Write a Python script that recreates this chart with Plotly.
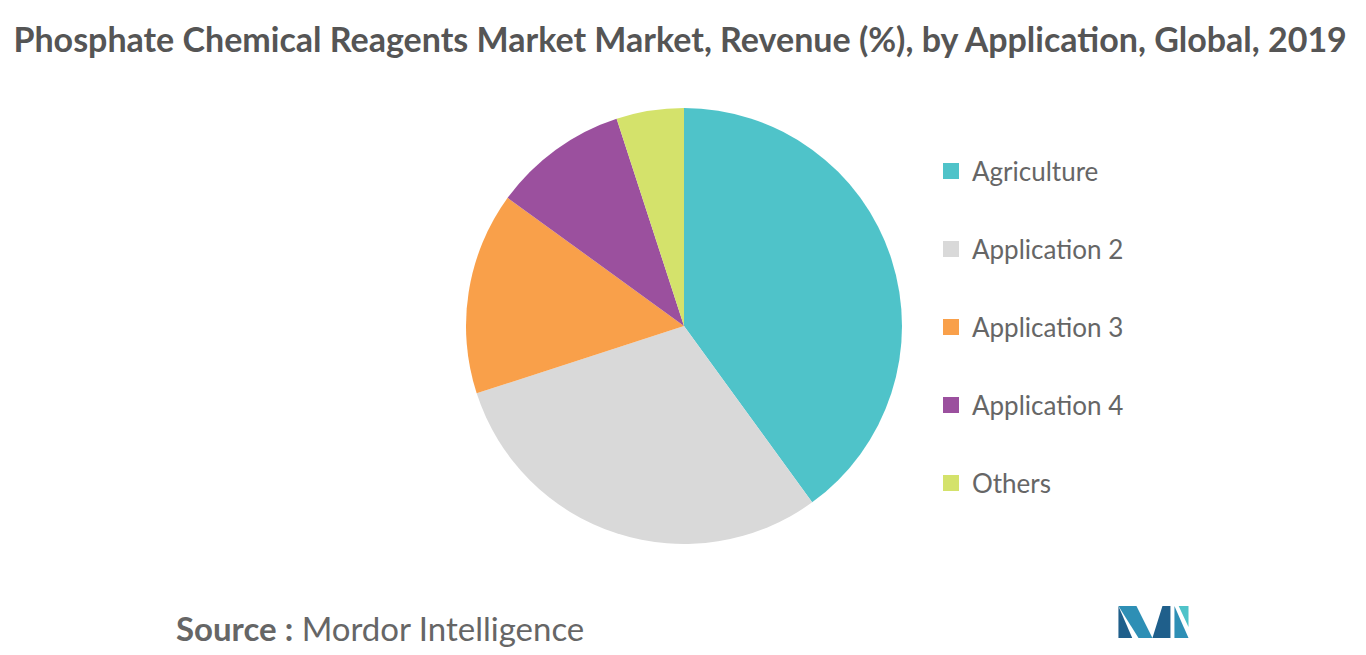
import plotly.graph_objects as go

labels = ["Agriculture", "Application 2", "Application 3", "Application 4", "Others"]
values = [40, 30, 15, 10, 5]
colors = ["#4FC3C9", "#D9D9D9", "#F9A04A", "#9B509E", "#D4E26B"]

W, H = 1366, 655
cx, cy, r = 676, 318, 218

fig = go.Figure(go.Pie(
    labels=labels,
    values=values,
    marker=dict(colors=colors),
    sort=False,
    direction="clockwise",
    rotation=0,
    textinfo="none",
    hoverinfo="label+percent",
    showlegend=False,
    domain=dict(x=[(cx - r) / W, (cx + r) / W], y=[1 - (cy + r) / H, 1 - (cy - r) / H]),
))

# legend drawn by hand to match the wide spacing
annotations = []
shapes = []
for i, (lab, col) in enumerate(zip(labels, colors)):
    yc = 163 + 78 * i
    shapes.append(dict(type="rect", xref="paper", yref="paper",
                       x0=935 / W, x1=951 / W, y0=1 - (yc + 8) / H, y1=1 - (yc - 8) / H,
                       fillcolor=col, line=dict(width=0)))
    annotations.append(dict(text=lab, x=962 / W, y=1 - yc / H, xref="paper", yref="paper",
                            xanchor="left", yanchor="middle", showarrow=False,
                            font=dict(size=26, color="#666")))

annotations.append(dict(text="<b>Source :</b> Mordor Intelligence", x=166 / W, y=1 - 620 / H,
                        xref="paper", yref="paper", xanchor="left", yanchor="middle",
                        showarrow=False, font=dict(size=33, color="#666")))

# logo
dx, dy = -0.007, 0.01
logo = [
    ([(0.8199, 0.0772), (0.8331, 0.0772), (0.8448, 0.0283), (0.8346, 0.0283)], "#2E8FB5"),
    ([(0.8199, 0.0283), (0.8199, 0.0772), (0.8300, 0.0283)], "#1F5F8B"),
    ([(0.8448, 0.0283), (0.8521, 0.0772), (0.8580, 0.0772), (0.8580, 0.0283)], "#1F5F8B"),
    ([(0.8609, 0.0283), (0.8609, 0.0772), (0.8712, 0.0283)], "#2E8FB5"),
    ([(0.8640, 0.0772), (0.8712, 0.0772), (0.8712, 0.0450)], "#4FC3C9"),
]
for pts, c in logo:
    p = "M " + " L ".join(f"{x + dx:.4f},{y + dy:.4f}" for x, y in pts) + " Z"
    shapes.append(dict(type="path", xref="paper", yref="paper", path=p,
                       fillcolor=c, line=dict(width=0)))

fig.update_layout(
    width=W, height=H,
    margin=dict(l=0, r=0, t=0, b=0),
    paper_bgcolor="white",
    font=dict(family="Lato, Open Sans, sans-serif", color="#666"),
    title=dict(text="<b>Phosphate Chemical Reagents Market Market, Revenue (%), by Application, Global, 2019</b>",
               x=0.004, xanchor="left", y=1 - 32 / H, yanchor="middle",
               font=dict(size=34, color="#555")),
    annotations=annotations,
    shapes=shapes,
)

fig.write_html("out.html")
